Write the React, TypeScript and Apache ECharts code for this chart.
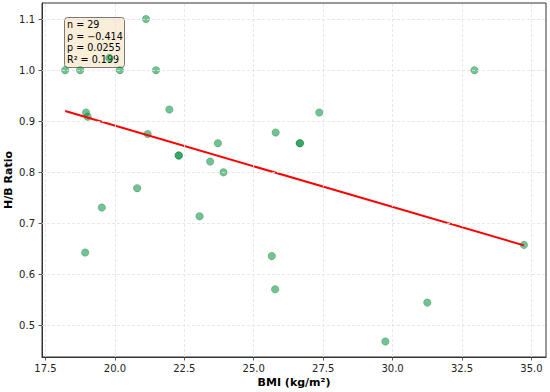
import React, { useEffect, useRef } from "react";
import * as echarts from "echarts";

// Data
const bmi = [18.21, 18.75, 20.18, 21.48, 21.12, 19.8, 21.96, 18.96, 19.02, 32.95, 27.36, 25.79, 26.66, 26.66, 23.71, 23.43, 23.91, 21.18, 22.3, 22.3, 20.8, 19.53, 23.05, 18.93, 25.65, 25.77, 34.73, 31.25, 29.74];
const hbRatio = [1.0, 1.0, 1.0, 1.0, 1.1, 1.024, 0.923, 0.917, 0.909, 1.0, 0.917, 0.878, 0.857, 0.857, 0.857, 0.821, 0.8, 0.875, 0.833, 0.833, 0.769, 0.731, 0.714, 0.643, 0.636, 0.571, 0.658, 0.545, 0.469];

// Regression line end points
const fitX = [18.21, 34.73];
const fitY = [0.92, 0.657];

const xTicks = [17.5, 20.0, 22.5, 25.0, 27.5, 30.0, 32.5, 35.0];
const yTicks = [0.5, 0.6, 0.7, 0.8, 0.9, 1.0, 1.1];

const statLines = ["n = 29", "ρ = −0.414", "p = 0.0255", "R² = 0.199"];

const FONT = "DejaVu Sans";

export default function App() {
  const ref = useRef<HTMLDivElement>(null);

  useEffect(() => {
    if (!ref.current) return;
    const chart = echarts.init(ref.current, undefined, { renderer: "svg" });
    const points = bmi.map((x, i) => [x, hbRatio[i]]);
    const fit = fitX.map((x, i) => [x, fitY[i]]);

    const option: any = {
      animation: false,
      backgroundColor: "#ffffff",
      textStyle: { fontFamily: FONT },
      grid: {
        left: 42,
        right: 4,
        top: 3,
        bottom: 35,
        containLabel: false,
        outerBoundsMode: "none",
        show: true,
        borderColor: "#333",
        borderWidth: 1,
        backgroundColor: "transparent",
      },
      xAxis: {
        type: "value",
        min: 17.375,
        max: 35.525,
        name: "BMI (kg/m²)",
        nameLocation: "middle",
        nameGap: 20,
        nameMoveOverlap: false,
        nameTextStyle: { fontSize: 11, fontWeight: "bold", color: "#000", fontFamily: FONT },
        axisLine: { show: true, onZero: false, lineStyle: { color: "#333", width: 1 } },
        axisTick: { show: true, customValues: xTicks, length: 3.5, inside: false, lineStyle: { color: "#333", width: 0.8 } },
        axisLabel: {
          customValues: xTicks,
          formatter: (v: number) => v.toFixed(1),
          fontSize: 10,
          color: "#222",
          margin: 6,
          fontFamily: FONT,
        },
        splitLine: { show: false },
      },
      yAxis: {
        type: "value",
        min: 0.4385,
        max: 1.1315,
        name: "H/B Ratio",
        nameLocation: "middle",
        nameGap: 28,
        nameRotate: 90,
        nameMoveOverlap: false,
        nameTextStyle: { fontSize: 11, fontWeight: "bold", color: "#000", fontFamily: FONT },
        axisLine: { show: true, onZero: false, lineStyle: { color: "#333", width: 1 } },
        axisTick: { show: true, customValues: yTicks, length: 3.5, inside: false, lineStyle: { color: "#333", width: 0.8 } },
        axisLabel: {
          customValues: yTicks,
          formatter: (v: number) => v.toFixed(1),
          fontSize: 10,
          color: "#222",
          margin: 7,
          fontFamily: FONT,
        },
        splitLine: { show: false },
      },
      series: [
        {
          type: "line",
          data: [],
          z: 1,
          silent: true,
          markLine: {
            silent: true,
            symbol: ["none", "none"],
            label: { show: false },
            emphasis: { disabled: true },
            lineStyle: { type: [3, 2], color: "#e2e2e2", width: 0.8 },
            data: [
              ...xTicks.map((v) => ({ xAxis: v })),
              ...yTicks.map((v) => ({ yAxis: v })),
            ],
          },
        },
        {
          type: "scatter",
          data: points,
          z: 3,
          symbol: "circle",
          symbolSize: 7.5,
          itemStyle: {
            color: "rgba(0,150,60,0.7)",
            borderColor: "rgba(0,70,30,0.55)",
            borderWidth: 0.5,
          },
        },
        {
          type: "line",
          data: fit,
          z: 4,
          showSymbol: false,
          symbol: "none",
          lineStyle: { color: "#ff0000", width: 2 },
        },
      ],
      graphic: [
        {
          type: "group",
          left: 64,
          top: 17,
          z: 100,
          children: [
            {
              type: "rect",
              shape: { x: 0, y: 0, width: 60, height: 50, r: 3 },
              style: { fill: "rgba(245,222,179,0.5)", stroke: "rgba(90,90,90,0.8)", lineWidth: 1 },
            },
            {
              type: "text",
              x: 2.5,
              y: 1.8,
              style: {
                text: statLines.join("\n"),
                font: `9.6px '${FONT}'`,
                lineHeight: 11.4,
                fill: "#000",
              },
            },
          ],
        },
      ],
    };

    chart.setOption(option);
    return () => chart.dispose();
  }, []);

  return (
    <div
      ref={ref}
      style={{ position: "fixed", left: 0, top: 0, width: 550, height: 392, background: "#fff" }}
    />
  );
}
